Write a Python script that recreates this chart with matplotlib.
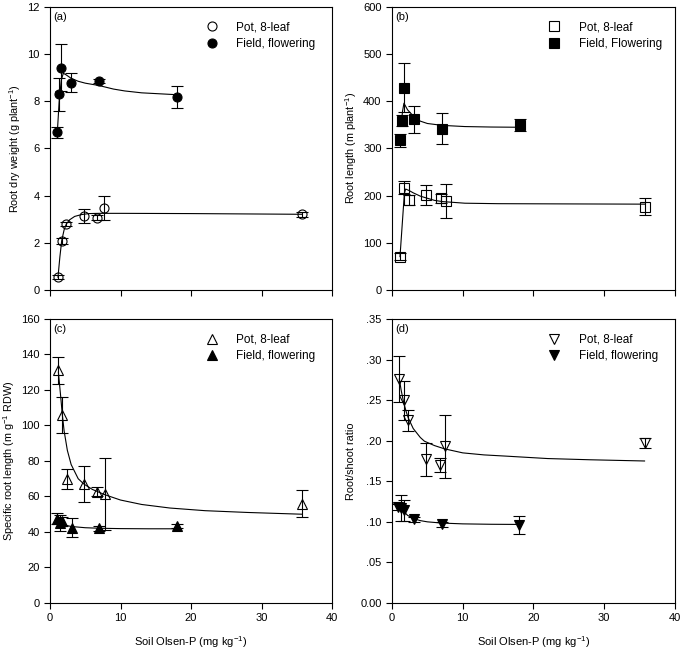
"""Root traits of pot and field plants against soil Olsen-P (four panels)."""
import matplotlib
matplotlib.use("Agg")
import matplotlib.pyplot as plt
from matplotlib.lines import Line2D

plt.rcParams["font.family"] = ["Liberation Sans", "DejaVu Sans"]
plt.rcParams["mathtext.fontset"] = "custom"
plt.rcParams["mathtext.rm"] = "Liberation Sans"
plt.rcParams["mathtext.default"] = "regular"

# ---- (a) root dry weight ----
a_pot_x = [1.13, 1.66, 2.32, 4.82, 6.71, 7.61, 35.8]
a_pot_y = [0.54, 2.09, 2.80, 3.13, 3.06, 3.48, 3.21]
a_pot_err = [0.08, 0.12, 0.10, 0.31, 0.10, 0.52, 0.10]
a_pot_fit_x = [1.13, 1.4, 1.66, 2.0, 2.32, 2.8, 3.5, 4.5, 5.5, 7, 10, 20, 35.8]
a_pot_fit_y = [0.54, 1.4, 2.09, 2.55, 2.80, 2.98, 3.12, 3.20, 3.24, 3.25, 3.25, 3.24, 3.21]
a_field_x = [1.04, 1.33, 1.56, 2.98, 6.95, 18.0]
a_field_y = [6.69, 8.30, 9.43, 8.79, 8.86, 8.19]
a_field_err = [0.23, 0.70, 1.00, 0.39, 0.10, 0.47]
a_field_fit_x = [1.04, 1.3, 1.6, 1.89, 2.3, 2.98, 4, 5, 6.95, 9, 10.6, 13, 18]
a_field_fit_y = [6.69, 8.0, 8.9, 9.19, 9.12, 8.98, 8.85, 8.77, 8.67, 8.52, 8.44, 8.36, 8.28]

# ---- (b) root length ----
b_pot_x = [1.13, 1.74, 2.4, 4.8, 6.92, 7.67, 35.8]
b_pot_y = [70.8, 217, 191, 202, 194, 189, 177]
b_pot_err = [7, 14, 10, 21, 10, 36, 18]
b_pot_fit_x = [1.13, 1.75, 1.93, 2.4, 3, 4, 4.66, 6, 7.1, 10.3, 15, 25, 35.8]
b_pot_fit_y = [70.8, 205, 214, 211, 206, 199, 196, 190, 187.5, 184, 183, 182.5, 182]
b_field_x = [1.09, 1.37, 1.74, 3.06, 7.1, 18.1]
b_field_y = [317, 359, 429, 362, 342, 350]
b_field_err = [13, 12, 52, 29, 33, 12]
b_field_fit_x = [1.3, 1.5, 1.69, 2.2, 3.06, 4, 5, 7.1, 10.3, 14, 18.1]
b_field_fit_y = [352, 380, 396, 382, 368, 358, 353, 349, 346.5, 345.5, 345]

# ---- (c) specific root length ----
c_pot_x = [1.19, 1.75, 2.46, 4.81, 6.7, 7.74, 35.8]
c_pot_y = [131, 105.8, 69.8, 67, 62.7, 61.4, 56]
c_pot_err = [7.6, 10, 5.7, 10, 2.5, 20.5, 7.7]
c_pot_fit_x = [1.19, 1.5, 1.75, 2.0, 2.46, 3.0, 4.0, 4.81, 6.0, 7.78, 10, 13, 17, 22, 28, 35.8]
c_pot_fit_y = [130, 117, 106, 97, 86, 78, 70, 67, 64, 61, 58, 55.5, 53.5, 52, 51, 50]
c_field_x = [1.04, 1.4, 1.75, 3.1, 7.0, 18.0]
c_field_y = [47.5, 45.0, 46.0, 42.5, 42.0, 43.2]
c_field_err = [3.0, 4.5, 2.5, 5.5, 1.5, 1.2]
c_field_fit_x = [1.04, 1.4, 2, 3, 5, 7, 10, 14, 18]
c_field_fit_y = [46.5, 45.2, 44.0, 43.1, 42.4, 42.1, 41.9, 41.8, 41.8]

# ---- (d) root/shoot ratio ----
d_pot_x = [1.03, 1.65, 2.3, 4.82, 6.8, 7.55, 35.7]
d_pot_y = [0.276, 0.250, 0.225, 0.177, 0.170, 0.193, 0.197]
d_pot_err = [0.028, 0.024, 0.013, 0.020, 0.0085, 0.039, 0.006]
d_pot_fit_x = [1.03, 1.3, 1.65, 2.0, 2.3, 3.0, 4.0, 4.58, 6.0, 7.41, 10, 13, 16.1, 22, 28, 35.7]
d_pot_fit_y = [0.276, 0.262, 0.247, 0.236, 0.228, 0.215, 0.204, 0.1994, 0.194, 0.190,
               0.185, 0.1825, 0.181, 0.178, 0.1765, 0.175]
d_field_x = [0.9, 1.3, 1.65, 3.06, 7.03, 18.0]
d_field_y = [0.118, 0.117, 0.114, 0.103, 0.097, 0.096]
d_field_err = [0.004, 0.016, 0.013, 0.003, 0.003, 0.011]
d_field_fit_x = [0.9, 1.3, 1.65, 2.2, 3.06, 4, 5, 7.03, 10, 14, 18]
d_field_fit_y = [0.119, 0.116, 0.113, 0.108, 0.104, 0.1015, 0.100, 0.0985, 0.0975,
                 0.097, 0.0968]

x_ticks = [0, 10, 20, 30, 40]
d_ticks = [0.00, 0.05, 0.10, 0.15, 0.20, 0.25, 0.30, 0.35]
d_tick_labels = ["0.00", ".05", ".10", ".15", ".20", ".25", ".30", ".35"]

panels = [
    dict(tag="(a)", ylabel="Root dry weight (g plant$^{-1}$)", ylim=(0, 12), yticks=range(0, 13, 2),
         marker="o", field_label="Field, flowering",
         pot=(a_pot_x, a_pot_y, a_pot_err, a_pot_fit_x, a_pot_fit_y),
         field=(a_field_x, a_field_y, a_field_err, a_field_fit_x, a_field_fit_y),
         rect=(0.0731, 0.5559, 0.4123, 0.4334), xlabels=False),
    dict(tag="(b)", ylabel="Root length (m plant$^{-1}$)", ylim=(0, 600), yticks=range(0, 601, 100),
         marker="s", field_label="Field, Flowering",
         pot=(b_pot_x, b_pot_y, b_pot_err, b_pot_fit_x, b_pot_fit_y),
         field=(b_field_x, b_field_y, b_field_err, b_field_fit_x, b_field_fit_y),
         rect=(0.5731, 0.5559, 0.4137, 0.4334), xlabels=False),
    dict(tag="(c)", ylabel="Specific root length (m g$^{-1}$ RDW)", ylim=(0, 160),
         yticks=range(0, 161, 20), marker="^", field_label="Field, flowering",
         pot=(c_pot_x, c_pot_y, c_pot_err, c_pot_fit_x, c_pot_fit_y),
         field=(c_field_x, c_field_y, c_field_err, c_field_fit_x, c_field_fit_y),
         rect=(0.0731, 0.0766, 0.4123, 0.4349), xlabels=True),
    dict(tag="(d)", ylabel="Root/shoot ratio", ylim=(0, 0.35), yticks=d_ticks,
         marker="v", field_label="Field, flowering",
         pot=(d_pot_x, d_pot_y, d_pot_err, d_pot_fit_x, d_pot_fit_y),
         field=(d_field_x, d_field_y, d_field_err, d_field_fit_x, d_field_fit_y),
         rect=(0.5731, 0.0766, 0.4137, 0.4349), xlabels=True),
]

fig = plt.figure(figsize=(6.84, 6.53), dpi=100)

for p in panels:
    ax = fig.add_axes(p["rect"])
    marker = p["marker"]
    msize = 6.5 if marker in ("o", "s") else 7

    for key, face in (("pot", "none"), ("field", "black")):
        x, y, err, fx, fy = p[key]
        ax.plot(fx, fy, color="black", lw=0.8, zorder=2)
        ax.errorbar(x, y, yerr=err, fmt=marker, ms=msize, mfc=face, mec="black", mew=0.8,
                    ecolor="black", elinewidth=0.8, capsize=4.5, capthick=0.8, zorder=3)

    handles = [
        Line2D([], [], ls="none", marker=marker, ms=msize, mfc="none", mec="black", mew=0.8),
        Line2D([], [], ls="none", marker=marker, ms=msize, mfc="black", mec="black", mew=0.8),
    ]
    ax.legend(handles, ["Pot, 8-leaf", p["field_label"]], loc="upper left",
              bbox_to_anchor=(0.535, 0.965), frameon=False, fontsize=8.5,
              handlelength=1.0, handletextpad=1.6, labelspacing=0.35, borderaxespad=0)

    ax.text(0.012, 0.965, p["tag"], transform=ax.transAxes, ha="left", va="center", fontsize=8)

    ax.set_xlim(0, 40)
    ax.set_ylim(*p["ylim"])
    ax.set_xticks(x_ticks)
    ax.set_yticks(list(p["yticks"]))
    if marker == "v":
        ax.set_yticklabels(d_tick_labels)
    if p["xlabels"]:
        ax.set_xlabel("Soil Olsen-P (mg kg$^{-1}$)", fontsize=8, labelpad=8)
    else:
        ax.set_xticklabels([])
    ax.set_ylabel(p["ylabel"], fontsize=7.8, labelpad=3)
    ax.tick_params(direction="out", length=4, width=0.8, labelsize=8, top=False, right=False)
    for spine in ax.spines.values():
        spine.set_linewidth(0.8)

fig.savefig("out.png", dpi=100)
